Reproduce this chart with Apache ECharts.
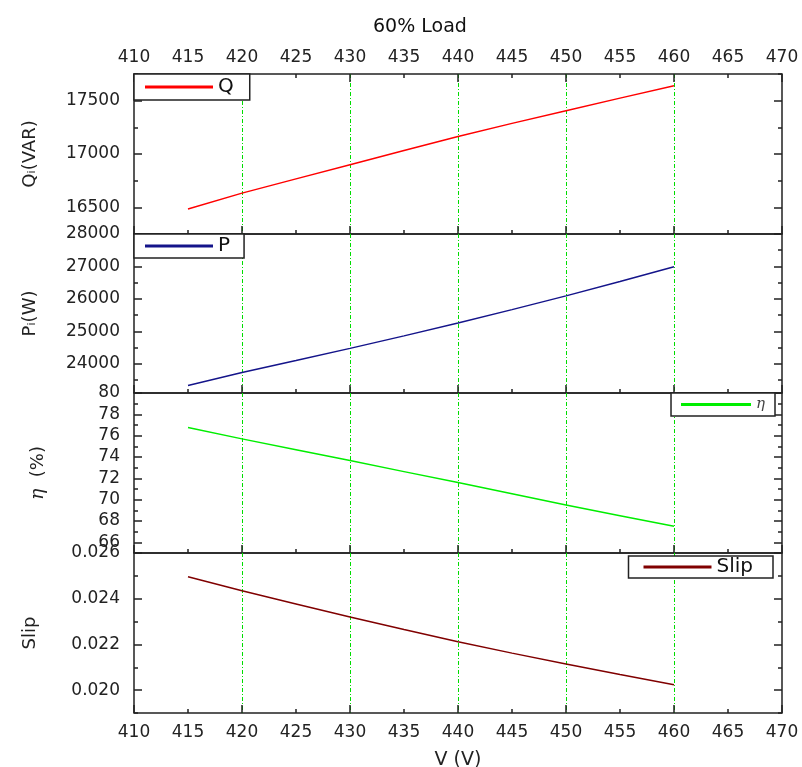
<!DOCTYPE html>
<html>
<head>
<meta charset="utf-8">
<title>60% Load</title>
<script src="https://cdn.jsdelivr.net/npm/echarts@6/dist/echarts.min.js"></script>
<style>
  html, body { margin: 0; padding: 0; background: #fff; }
  #chart { width: 802px; height: 767px; }
</style>
</head>
<body>
<div id="chart"></div>
<script>
// 数据 - 从图上读取
const voltage = [415, 420, 425, 430, 435, 440, 445, 450, 455, 460];
const reactivePower = [16485, 16633, 16767, 16900, 17033, 17164, 17287, 17406, 17524, 17640];
const activePower = [23330, 23730, 24100, 24475, 24860, 25257, 25670, 26093, 26535, 26990];
const efficiency = [76.76, 75.7, 74.68, 73.67, 72.63, 71.6, 70.55, 69.5, 68.5, 67.5];
const slip = [0.02496, 0.02435, 0.02377, 0.0232, 0.02265, 0.02212, 0.02162, 0.02114, 0.02068, 0.02024];

// 刻度标签
const qLabels = [16500, 17000, 17500];
const qMinor = [16250, 16750, 17250, 17750];
const pLabels = [24000, 25000, 26000, 27000, 28000];
const pMinor = [23500, 24500, 25500, 26500, 27500];
const etaLabels = [66, 68, 70, 72, 74, 76, 78, 80];
const etaMinor = [65, 67, 69, 71, 73, 75, 77, 79];
const slipLabels = [0.020, 0.022, 0.024, 0.026];
const slipMinor = [0.019, 0.021, 0.023, 0.025];

const FONT = 'DejaVu Sans';
const INK = '#222';
const GREEN = '#00dd00';
const gridTops = [74, 234, 393, 553];
const gridHeights = [160, 159, 160, 160];

const panels = [
  {
    name: 'Q', axisName: 'Qᵢ(VAR)', values: reactivePower, min: 16250, max: 17750,
    labels: qLabels, minor: qMinor, color: '#ff0000', nameGap: 95,
    legend: { left: 134, top: 74, padding: [3, 16, 3, 11] }, fmt: v => String(v)
  },
  {
    name: 'P', axisName: 'Pᵢ(W)', values: activePower, min: 23100, max: 28000,
    labels: pLabels, minor: pMinor, color: '#14148a', nameGap: 95,
    legend: { left: 134, top: 234, padding: [2, 14, 2, 11] }, fmt: v => String(v)
  },
  {
    name: 'η', axisName: '{e|η}  (%)', values: efficiency, min: 65, max: 80,
    labels: etaLabels, minor: etaMinor, color: '#00ee00', nameGap: 86,
    legend: { right: 27, top: 393, padding: [4, 10, 4, 10] }, fmt: v => String(v)
  },
  {
    name: 'Slip', axisName: 'Slip', values: slip, min: 0.019, max: 0.026,
    labels: slipLabels, minor: slipMinor, color: '#800000', nameGap: 95,
    legend: { right: 29, top: 556, padding: [1, 20, 1, 15] }, fmt: v => v.toFixed(3)
  }
];

const grid = [];
const xAxis = [];
const yAxis = [];
const series = [];
const legend = [];

const tickStyle = { color: INK, width: 1.5 };
const labelStyle = { color: INK, fontSize: 17, fontFamily: FONT };

function xTicks(i, position, interval, len, showLabel, extra) {
  xAxis.push(Object.assign({
    type: 'value', gridIndex: i, position: position, min: 410, max: 470, interval: interval,
    axisLine: { show: false },
    axisTick: { show: true, inside: true, length: len, lineStyle: tickStyle },
    axisLabel: Object.assign({ show: showLabel, margin: position === 'top' ? 8 : 11 }, labelStyle),
    splitLine: { show: false }
  }, extra || {}));
  return xAxis.length - 1;
}

function yTicks(p, i, position, values, len, extra) {
  yAxis.push(Object.assign({
    type: 'value', gridIndex: i, position: position, min: p.min, max: p.max,
    axisLine: { show: false },
    axisTick: { show: true, inside: true, length: len, customValues: values, lineStyle: tickStyle },
    axisLabel: { show: false, customValues: values },
    splitLine: { show: false }
  }, extra || {}));
  return yAxis.length - 1;
}

panels.forEach((p, i) => {
  grid.push({
    left: 134, width: 648, top: gridTops[i], height: gridHeights[i],
    outerBoundsMode: 'none', containLabel: false,
    show: true, borderColor: INK, borderWidth: 1.5, backgroundColor: 'transparent'
  });

  // 底部 x 轴：小刻度 + 标签
  const mainX = xTicks(i, 'bottom', 5, 4, i === 3, i === 3 ? {
    name: 'V (V)', nameLocation: 'middle', nameGap: 38,
    nameTextStyle: { fontSize: 19, color: INK, fontFamily: FONT }
  } : {});
  // 大刻度 + 绿色网格线
  xTicks(i, 'bottom', 10, 8, false, {
    splitLine: {
      show: true, showMinLine: false, showMaxLine: false,
      lineStyle: { color: GREEN, width: 1, type: [4, 2, 1, 2] }
    }
  });
  if (i === 0) {
    xTicks(i, 'top', 5, 4, true);
    xTicks(i, 'top', 10, 8, false);
  }

  const mainY = yTicks(p, i, 'left', p.labels, 8, {
    axisLabel: Object.assign({ show: true, customValues: p.labels, margin: 14, formatter: p.fmt }, labelStyle),
    name: p.axisName, nameLocation: 'middle', nameGap: p.nameGap,
    nameTextStyle: {
      fontSize: 18, color: INK, fontFamily: FONT,
      rich: { e: { fontSize: 19, fontStyle: 'italic', fontFamily: 'DejaVu Serif', color: INK } }
    }
  });
  yTicks(p, i, 'left', p.minor, 4);
  yTicks(p, i, 'right', p.labels, 8);
  yTicks(p, i, 'right', p.minor, 4);

  series.push({
    type: 'line', name: p.name, xAxisIndex: mainX, yAxisIndex: mainY,
    data: voltage.map((v, k) => [v, p.values[k]]),
    symbol: 'none', lineStyle: { width: 1.5, color: p.color }, itemStyle: { color: p.color }, z: 3
  });

  const isEta = p.name === 'η';
  legend.push(Object.assign({
    data: [p.name], orient: 'horizontal', selectedMode: false,
    backgroundColor: '#fff', borderColor: INK, borderWidth: 1.5, borderRadius: 0,
    icon: 'rect', itemWidth: isEta ? 70 : 68, itemHeight: 3, itemGap: 0,
    textStyle: isEta
      ? { fontSize: 15, fontStyle: 'italic', fontFamily: 'DejaVu Serif', color: '#444' }
      : { fontSize: 20, color: '#111', fontFamily: FONT }
  }, p.legend));
});

const chart = echarts.init(document.getElementById('chart'));
chart.setOption({
  animation: false,
  backgroundColor: '#fff',
  title: {
    text: '60% Load', left: 368, top: 13,
    textStyle: { fontSize: 19, fontWeight: 'normal', color: '#111', fontFamily: FONT }
  },
  legend: legend,
  grid: grid,
  xAxis: xAxis,
  yAxis: yAxis,
  series: series
});
</script>
</body>
</html>
